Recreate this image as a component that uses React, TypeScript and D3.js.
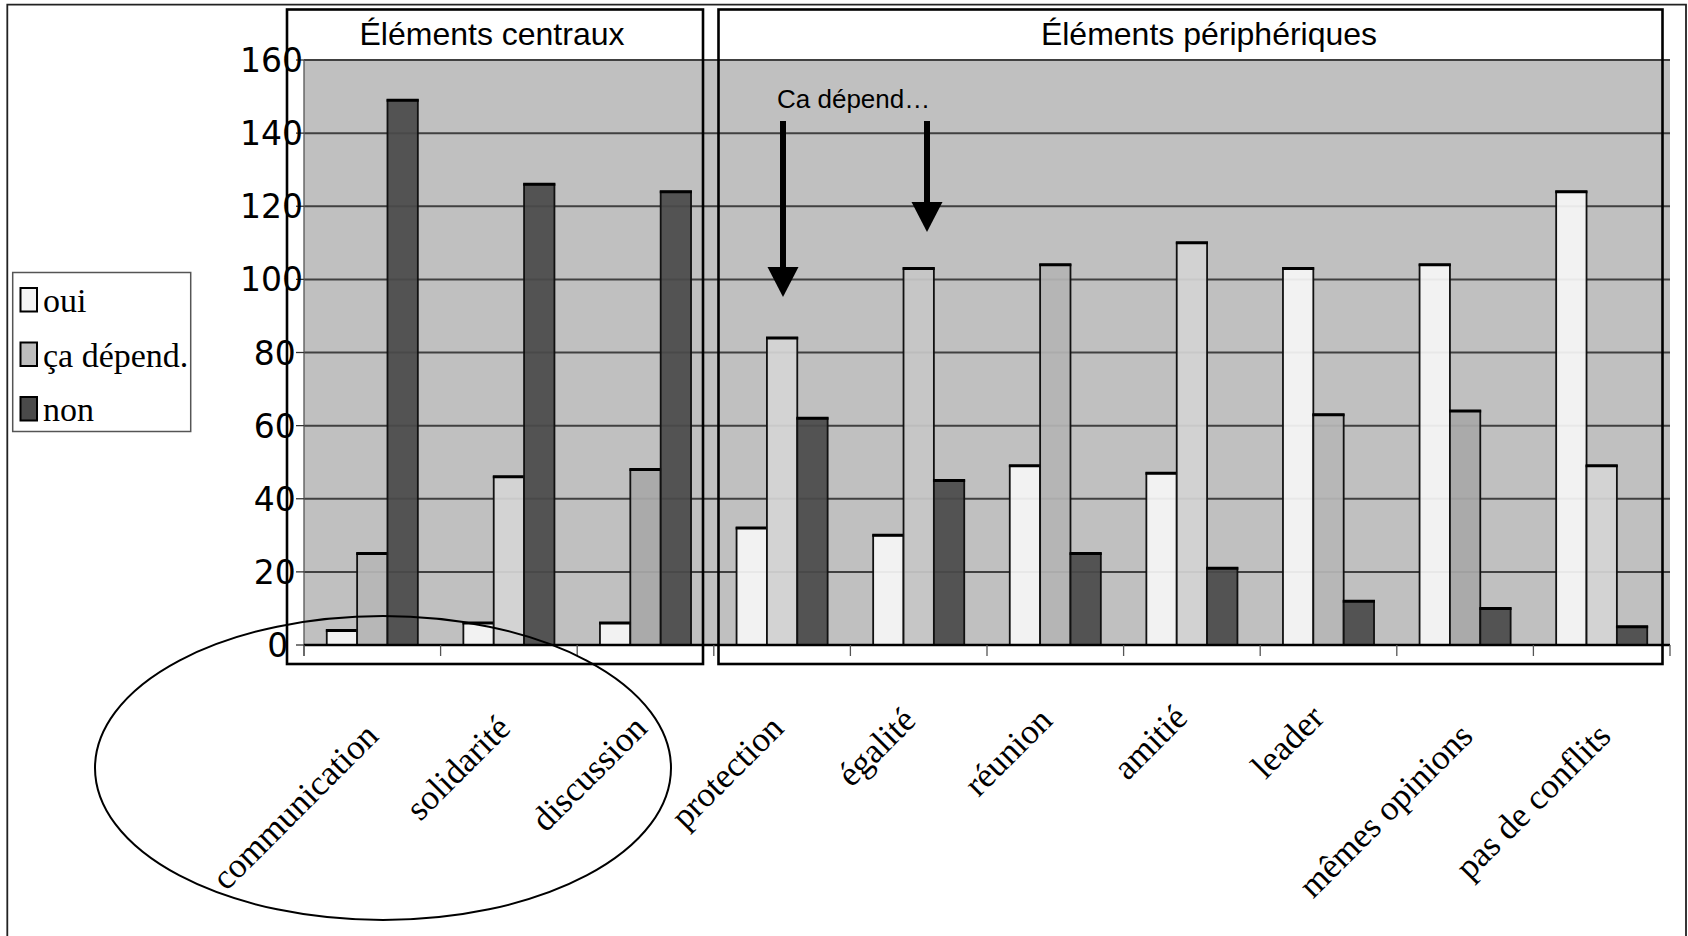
import React from "react";
import * as d3 from "d3";

// ---------- data ----------
const categories = [
  "communication",
  "solidarité",
  "discussion",
  "protection",
  "égalité",
  "réunion",
  "amitié",
  "leader",
  "mêmes opinions",
  "pas de conflits",
];
const seriesNames = ["oui", "ça dépend.", "non"];
const ouiValues = [4, 6, 6, 32, 30, 49, 47, 103, 104, 124];
const dependValues = [25, 46, 48, 84, 103, 104, 110, 63, 64, 49];
const nonValues = [149, 126, 124, 62, 45, 25, 21, 12, 10, 5];
const yTicks = [0, 20, 40, 60, 80, 100, 120, 140, 160];
const panelTitles = ["Éléments centraux", "Éléments périphériques"];
const panelCategoryCounts = [3, 7];
const annotationText = "Ca dépend…";

// ---------- styles ----------
const ouiColor = "#f5f5f5";
const nonColor = "#4a4a4a";
const dependShades = [
  "#b6b6b6",
  "#d4d4d4",
  "#a8a8a8",
  "#d4d4d4",
  "#c6c6c6",
  "#b4b4b4",
  "#d3d3d3",
  "#b6b6b6",
  "#a8a8a8",
  "#d4d4d4",
];
const legendColors = ["#f4f4f4", "#bebebe", "#4a4a4a"];
const plotBg = "#c0c0c0";
const SANS = "'Liberation Sans', Arial, sans-serif";
const SERIF = "'Liberation Serif', 'Times New Roman', serif";
const DEJAVU = "'DejaVu Sans', Verdana, sans-serif";

export default function App() {
  const W = 1688;
  const H = 936;
  const plotLeft = 304;
  const plotRight = 1670;
  const plotTop = 60;
  const plotBottom = 645;

  const x = d3.scaleBand<string>().domain(categories).range([plotLeft, plotRight]).padding(0);
  const xs = d3
    .scaleBand<string>()
    .domain(seriesNames)
    .range([0, x.bandwidth()])
    .paddingInner(0)
    .paddingOuter(0.75);
  const y = d3.scaleLinear().domain([0, 160]).range([plotBottom, plotTop]);
  const B = x.bandwidth();

  const bars: { key: string; x: number; w: number; v: number; fill: string }[] = [];
  categories.forEach((c, i) => {
    const vals = [ouiValues[i], dependValues[i], nonValues[i]];
    const fills = [ouiColor, dependShades[i], nonColor];
    seriesNames.forEach((s, j) => {
      bars.push({ key: c + s, x: (x(c) as number) + (xs(s) as number), w: xs.bandwidth(), v: vals[j], fill: fills[j] });
    });
  });

  // panel boxes
  const boundary = x(categories[panelCategoryCounts[0]]) as number;
  const panels = [
    { x0: plotLeft - 17, x1: boundary - 10.8, title: panelTitles[0], tx: 492 },
    { x0: boundary + 4.7, x1: plotRight - 7.5, title: panelTitles[1], tx: 1209 },
  ];
  const panelTop = 9.5;
  const panelBottom = 664;

  const boundaries = d3.range(categories.length + 1).map((i) => plotLeft + i * B);

  const arrows = [
    { x: 783, top: 121, tip: 297 },
    { x: 927, top: 121, tip: 232 },
  ];

  return (
    <svg
      width={W}
      height={H}
      viewBox={`0 0 ${W} ${H}`}
      style={{ position: "absolute", left: 0, top: 0, display: "block", background: "#fff" }}
    >
      {/* outer frame */}
      <path d={`M7.3,${H + 5} V4.7 H1686 V${H + 5}`} fill="none" stroke="#222" strokeWidth={1.8} />

      {/* plot background */}
      <rect x={plotLeft} y={plotTop} width={plotRight - plotLeft} height={plotBottom - plotTop} fill={plotBg} />

      {/* gridlines */}
      {yTicks.map((t) => (
        <line key={"g" + t} x1={plotLeft} x2={plotRight} y1={y(t)} y2={y(t)} stroke="#404040" strokeWidth={2} />
      ))}

      {/* plot left edge */}
      <line x1={plotLeft} x2={plotLeft} y1={plotTop} y2={plotBottom + 11} stroke="#555" strokeWidth={1.3} />

      {/* bars */}
      {bars.map((b) => (
        <g key={b.key}>
          <rect
            x={b.x}
            y={y(b.v)}
            width={b.w}
            height={plotBottom - y(b.v)}
            fill={b.fill}
            fillOpacity={0.93}
            stroke="#111"
            strokeWidth={1.8}
          />
          <line x1={b.x - 0.9} x2={b.x + b.w + 0.9} y1={y(b.v)} y2={y(b.v)} stroke="#000" strokeWidth={3} />
        </g>
      ))}

      {/* x axis line */}
      <line x1={plotLeft} x2={plotRight} y1={plotBottom} y2={plotBottom} stroke="#000" strokeWidth={2.5} />
      {/* category ticks */}
      {boundaries.map((bx, i) => (
        <line key={"ct" + i} x1={bx} x2={bx} y1={plotBottom} y2={plotBottom + 11} stroke="#555" strokeWidth={1.3} />
      ))}
      {/* y ticks */}
      {yTicks.map((t) => (
        <line key={"yt" + t} x1={plotLeft - 8} x2={plotLeft} y1={y(t)} y2={y(t)} stroke="#333" strokeWidth={1.3} />
      ))}

      {/* panel boxes and titles */}
      {panels.map((p, i) => (
        <g key={"p" + i}>
          <rect x={p.x0} y={panelTop} width={p.x1 - p.x0} height={panelBottom - panelTop} fill="none" stroke="#000" strokeWidth={2.6} />
          <text x={p.tx} y={45} textAnchor="middle" fontFamily={SANS} fontSize={32} fill="#000">
            {p.title}
          </text>
        </g>
      ))}

      {/* y tick labels */}
      {yTicks.map((t) => {
        const s = String(t);
        return (
          <text key={"yl" + t} x={281 - 13.65 * s.length} y={y(t) + 12} fontFamily={DEJAVU} fontSize={33} fill="#000">
            {s}
          </text>
        );
      })}

      {/* category labels */}
      {categories.map((c) => {
        const n = c.length;
        const dx = (-8 + (n - 6) * 1.4) * 1.077;
        const dy = Math.min(0, -17 + (n - 6) * 2.4) * 1.077;
        const cx = (x(c) as number) + B / 2 + 6 + dx;
        const cy = 738 + dy;
        return (
          <text
            key={"cl" + c}
            x={cx}
            y={cy}
            textAnchor="end"
            transform={`rotate(-45 ${cx} ${cy})`}
            fontFamily={SERIF}
            fontSize={35}
            fill="#000"
          >
            {c}
          </text>
        );
      })}

      {/* annotation */}
      <text x={777} y={108} fontFamily={SANS} fontSize={26} fill="#000">
        {annotationText}
      </text>
      {arrows.map((a, i) => (
        <g key={"a" + i}>
          <line x1={a.x} x2={a.x} y1={a.top} y2={a.tip - 28} stroke="#000" strokeWidth={6} />
          <path d={`M${a.x - 15.5},${a.tip - 30} L${a.x + 15.5},${a.tip - 30} L${a.x},${a.tip} Z`} fill="#000" />
        </g>
      ))}

      {/* ellipse */}
      <ellipse cx={383} cy={768} rx={288} ry={152} fill="none" stroke="#000" strokeWidth={2} />

      {/* legend */}
      <rect x={12.7} y={272.5} width={178} height={159} fill="#fff" stroke="#555" strokeWidth={1.5} />
      {seriesNames.map((s, i) => {
        const base = 312 + i * 54.5;
        return (
          <g key={"lg" + s}>
            <rect x={20.5} y={base - 24} width={16.5} height={23.5} fill={legendColors[i]} stroke="#000" strokeWidth={2} />
            <text x={43} y={base} fontFamily={SERIF} fontSize={34} fill="#000">
              {s}
            </text>
          </g>
        );
      })}
    </svg>
  );
}
